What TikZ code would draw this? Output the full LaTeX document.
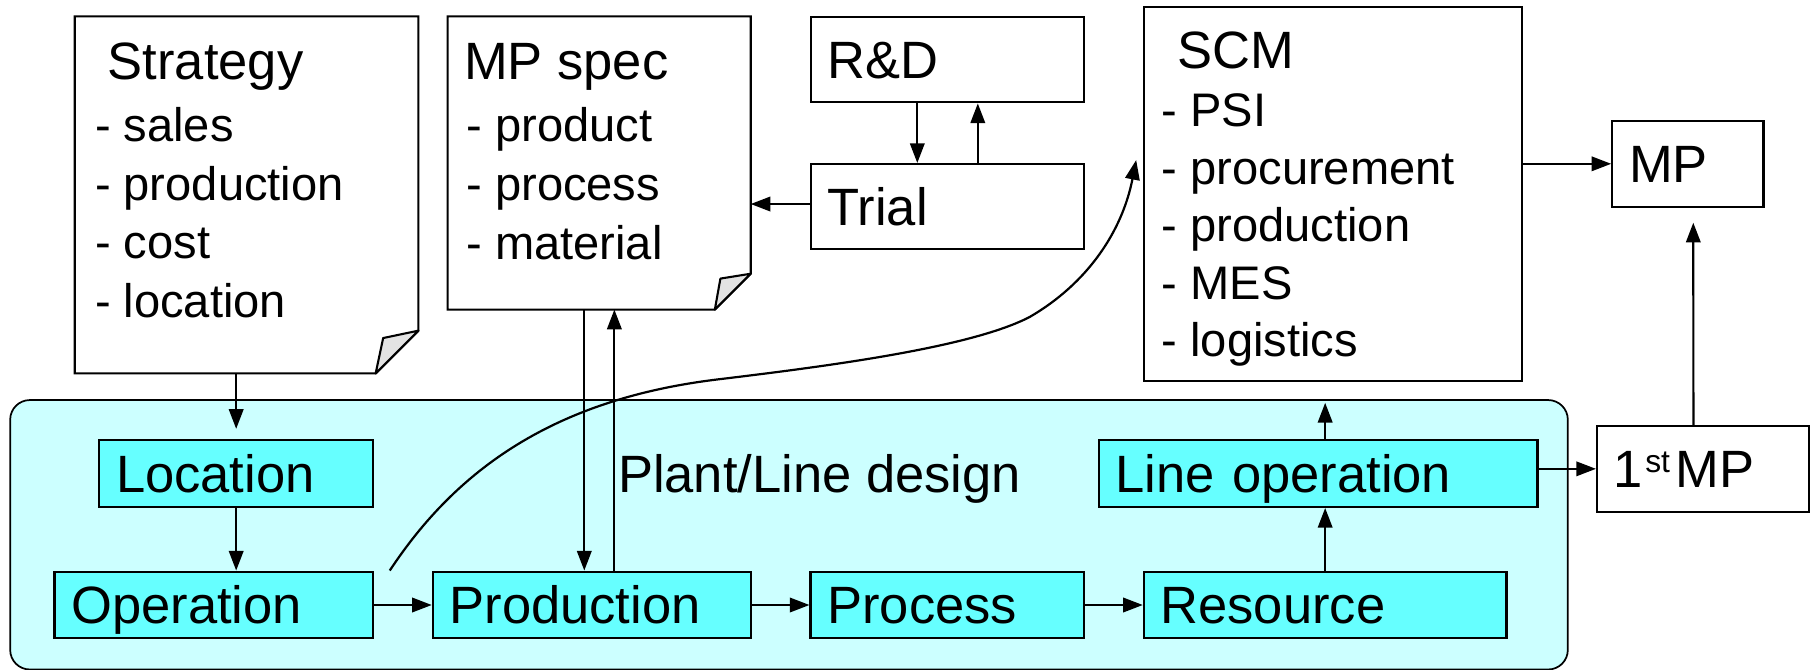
\documentclass[tikz,border=0pt]{standalone}
\usepackage{fontspec}
\setmainfont{Liberation Sans}
\usetikzlibrary{arrows.meta,calc}
\definecolor{boxcyan}{HTML}{66FFFF}
\definecolor{areacyan}{HTML}{CCFFFF}
\definecolor{flapgray}{HTML}{E3E3E3}
\tikzset{
  box/.style={draw=black, line width=1.8pt, inner xsep=14.5pt, inner ysep=0pt,
    text height=32.6pt, text depth=0pt, align=left,
    font=\fontsize{45.4}{54}\selectfont},
  cbox/.style={box, fill=boxcyan},
  wbox/.style={box, fill=white},
  outline/.style={draw=black, line width=1.8pt, fill=white},
  flap/.style={draw=black, line width=1.8pt, fill=flapgray, line join=round},
  area/.style={draw=none, inner sep=0pt},
  title/.style={anchor=base west, inner sep=0pt, font=\fontsize{45.4}{54}\selectfont},
  items/.style={anchor=base west, inner sep=0pt},
  arr/.style={draw=black, line width=1.9pt, -{Triangle[length=17pt,width=12.5pt]}},
}
\begin{document}
\begin{tikzpicture}[x=1pt,y=-1pt]
\useasboundingbox (0,0) rectangle (1568,579);

% container
\node[area, minimum width=1346pt, minimum height=232.5pt] (plant) at (682,462.25) {};
\draw[draw=black, line width=1.5pt, fill=areacyan, rounded corners=17pt]
  (plant.north west) rectangle (plant.south east);

% document shapes
\node[area, minimum width=296.7pt, minimum height=308.2pt] (strategy) at (213.15,168.5) {};
\draw[outline] (strategy.north west) -- (strategy.north east)
  -- ($(strategy.south east)+(0,-37)$) -- ($(strategy.south east)+(-37,0)$)
  -- (strategy.south west) -- cycle;
\draw[flap] ($(strategy.south east)+(0,-37)$) -- ($(strategy.south east)+(-30.5,-30.6)$)
  -- ($(strategy.south east)+(-37,0)$) -- cycle;
\node[title] (strattitle) at (93,69) {Strategy};
\node[items, font=\fontsize{40.7}{50.5}\selectfont] (stratitems) at (82,122.6)
  {\parbox[t]{270pt}{- sales\\- production\\- cost\\- location}};

\node[area, minimum width=261.6pt, minimum height=253pt] (mpspec) at (517.9,140.9) {};
\draw[outline] (mpspec.north west) -- (mpspec.north east)
  -- ($(mpspec.south east)+(0,-31)$) -- ($(mpspec.south east)+(-31,0)$)
  -- (mpspec.south west) -- cycle;
\draw[flap] ($(mpspec.south east)+(0,-31)$) -- ($(mpspec.south east)+(-26.2,-26.8)$)
  -- ($(mpspec.south east)+(-31,0)$) -- cycle;
\node[title] (mpspectitle) at (401,68.3) {MP spec};
\node[items, font=\fontsize{40.7}{51.1}\selectfont] (mpspecitems) at (403,122.5)
  {\parbox[t]{240pt}{- product\\- process\\- material}};

% SCM
\node[draw=black, line width=1.8pt, fill=white, minimum width=326.6pt, minimum height=323pt] (scm) at (1152.3,167.8) {};
\node[title] (scmtitle) at (1017.5,59) {SCM};
\node[items, font=\fontsize{40.7}{49.7}\selectfont] (scmitems) at (1004,109.5)
  {\parbox[t]{300pt}{- PSI\\- procurement\\- production\\- MES\\- logistics}};

% white boxes
\node[wbox, minimum width=236.2pt, minimum height=73.5pt, text width=207.2pt] (rd) at (818.9,51.75) {R\&D};
\node[wbox, minimum width=236.2pt, minimum height=73.7pt, text width=207.2pt] (trial) at (818.9,178.65) {Trial};
\node[wbox, minimum width=130.7pt, minimum height=74pt, text width=101.7pt] (mp) at (1458.95,141.6) {MP};
\node[wbox, minimum width=183.3pt, minimum height=74.1pt, text width=154.3pt, inner xsep=13.6pt] (firstmp) at (1472.05,405.25)
  {1\hspace{2pt}\raisebox{13.5pt}{\fontsize{27.5}{30}\selectfont st}\hspace{5pt}MP};

% cyan boxes
\node[cbox, minimum width=236.7pt, minimum height=57.6pt, text width=207.7pt] (loc) at (204.15,409.4) {Location};
\node[cbox, minimum width=275.4pt, minimum height=57.7pt, text width=246.4pt] (op) at (184.8,522.95) {Operation};
\node[cbox, minimum width=274.9pt, minimum height=57.7pt, text width=245.9pt] (prod) at (511.55,522.95) {Production};
\node[cbox, minimum width=236.1pt, minimum height=57.7pt, text width=207.1pt] (proc) at (818.65,522.95) {Process};
\node[cbox, minimum width=313.5pt, minimum height=57.7pt, text width=284.5pt] (res) at (1145.45,522.95) {Resource};
\node[cbox, minimum width=379.4pt, minimum height=57.6pt, text width=350.4pt] (lineop) at (1139.3,409.4) {Line operation};

\node[title] (plantlabel) at (534,425.6) {Plant/Line design};

% connectors
\draw[arr, shorten >=9pt] (loc.north |- strategy.south) -- (loc.north);
\draw[arr] (loc.south) -- (loc.south |- op.north);
\draw[arr] (op.east) -- (prod.west);
\draw[arr] (prod.east) -- (proc.west);
\draw[arr] (proc.east) -- (res.west);
\draw[arr] (res.north) -- (res.north |- lineop.south);
\draw[arr, shorten >=18pt] (lineop.north -| res.north) -- (res.north |- scm.south);
\draw[arr] (lineop.east |- firstmp.west) -- (firstmp.west);
\draw[arr, shorten >=13pt] ($(firstmp.north)+(-8.3,0)$) -- ($(mp.south)+(4.7,0)$);
\draw[arr] (scm.east |- mp.west) -- (mp.west);
\draw[arr] ($(rd.south)+(-26,0)$) -- ($(trial.north)+(-26,0)$);
\draw[arr] ($(trial.north)+(26.3,0)$) -- ($(rd.south)+(26.3,0)$);
\coordinate (trialout) at ($(trial.west)+(0,-2.3)$);
\draw[arr] (trialout) -- (trialout -| mpspec.east);
\coordinate (prodin) at ($(prod.north)+(-6.5,0)$);
\coordinate (prodout) at ($(prod.north)+(19.5,0)$);
\draw[arr] (prodin |- mpspec.south) -- (prodin);
\draw[arr] (prodout) -- (prodout |- mpspec.south);

\coordinate (cstart) at ($(op.north east)+(13.5,0)$);
\coordinate (cend) at ($(scm.west)+(-6,-29.5)$);
\draw[arr] (cstart) .. controls (395,405) and (480,345) .. (620,328)
  .. controls (720,316) and (840,300) .. (890,274)
  .. controls (940,245) and (970,200) .. (cend);
\end{tikzpicture}
\end{document}
